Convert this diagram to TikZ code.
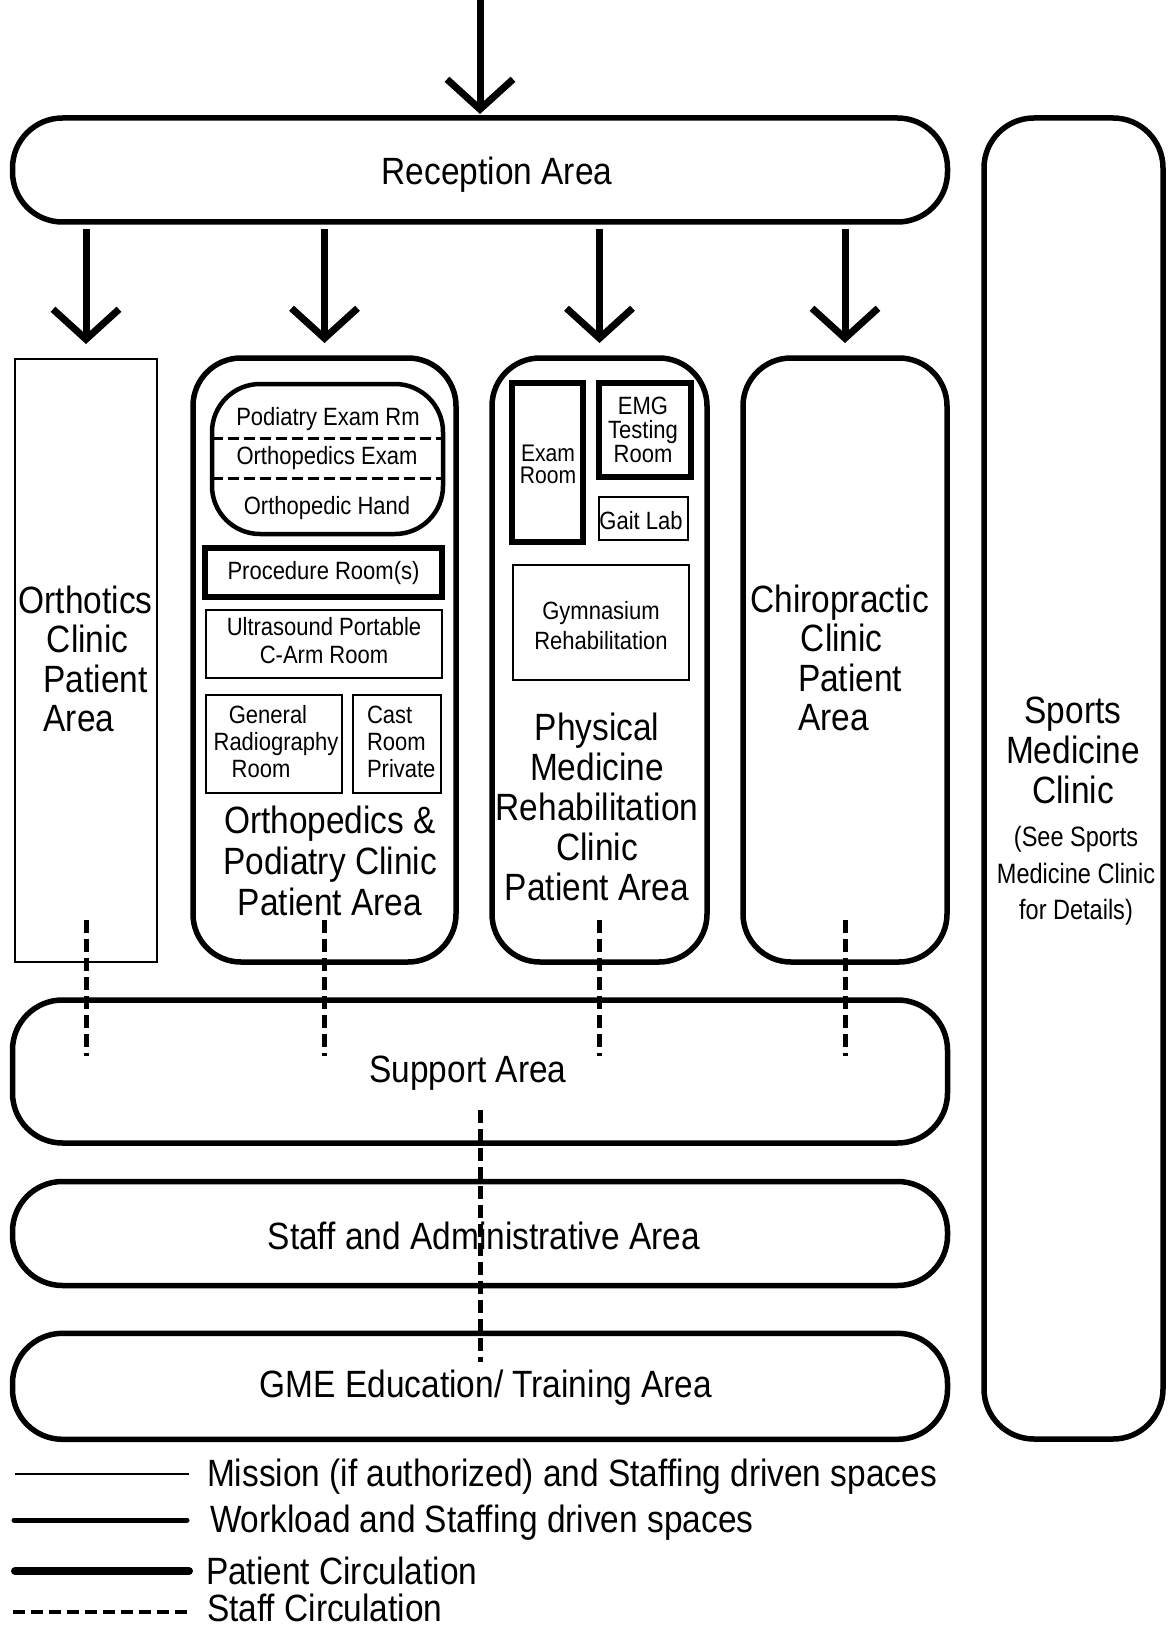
\documentclass[tikz,border=0pt]{standalone}
\usepackage{fontspec}
\setmainfont{Liberation Sans}[FakeStretch=0.88]
\newfontfamily\notefont{Liberation Sans}[FakeStretch=0.84]
\usetikzlibrary{arrows.meta,calc}
\begin{document}
\begin{tikzpicture}[x=1pt,y=-1pt,
  every node/.style={inner sep=0pt, outer sep=0pt},
  thinbox/.style={draw, line width=1.6pt},
  zone/.style={draw, line width=5.5pt, rounded corners=50pt},
  roombox/.style={draw, line width=5.5pt},
  big/.style={font=\fontsize{38}{40}\selectfont, align=center},
  small/.style={font=\fontsize{25}{27}\selectfont, align=center},
  legendtxt/.style={font=\fontsize{38}{40}\selectfont, anchor=west},
  arr/.style={line width=7pt, -{Straight Barb[length=30pt,width=66pt]}},
  staffline/.style={line width=5pt, dash pattern=on 13pt off 6pt},
  divline/.style={line width=3pt, dash pattern=on 11pt off 5pt},
]
\useasboundingbox (0,0) rectangle (1167,1629);

% reception
\node[zone, minimum width=935pt, minimum height=104pt] (rec) at (480,170) {};
\node[big] (rect) at (497,175) {Reception Area};

% sports medicine
\node[zone, minimum width=179pt, minimum height=1321pt] (sports) at (1073.5,778.5) {};
\node[big] (sportst) at (1073,750) {Sports\\Medicine\\Clinic};
\node[font=\notefont\fontsize{28}{36.5}\selectfont, align=center] (sportsn) at (1076,876) {(See Sports\\Medicine Clinic\\for Details)};

% orthotics
\node[thinbox, minimum width=142pt, minimum height=603pt] (orth) at (86,660.5) {};
\node[big] (ortht1) at (85.7,600) {Orthotics};
\node[big] (ortht2) at (87.8,639) {Clinic};
\node[big, anchor=west] (ortht3) at (43.6,679) {Patient};
\node[big, anchor=west] (ortht4) at (43.6,719) {Area};

% orthopedics & podiatry
\node[zone, rounded corners=48pt, minimum width=263pt, minimum height=604pt] (opc) at (324.5,660) {};
\node[draw, line width=4.5pt, rounded corners=48pt, minimum width=231pt, minimum height=150pt] (exams) at (327.5,459) {};
\draw[divline] (exams.west |- 0,438) -- (exams.east |- 0,438);
\draw[divline] (exams.west |- 0,478) -- (exams.east |- 0,478);
\node[small] (podt) at (328,419) {Podiatry Exam Rm};
\node[small] (orthex) at (327,458) {Orthopedics Exam};
\node[small] (orthh) at (327,508) {Orthopedic Hand};
\node[roombox, minimum width=237pt, minimum height=49pt] (proc) at (323.5,572.5) {};
\node[small] (proct) at (323.5,573.5) {Procedure Room(s)};
\node[thinbox, minimum width=236pt, minimum height=68pt] (us) at (324,644) {};
\node[small, font=\fontsize{25}{28}\selectfont] (ust) at (324,641) {Ultrasound Portable\\C-Arm Room};
\node[thinbox, minimum width=136pt, minimum height=98pt] (grad) at (274,744) {};
\node[small] (gradt1) at (268,715) {General};
\node[small] (gradt2) at (276,744) {Radiography};
\node[small] (gradt3) at (261,769) {Room};
\node[thinbox, minimum width=88pt, minimum height=98pt] (cast) at (397,744) {};
\node[small, align=left, anchor=west] (castt) at (367,742) {Cast\\Room\\Private};
\node[big, font=\fontsize{38}{41}\selectfont] (opct) at (330,861) {Orthopedics \&\\Podiatry Clinic\\Patient Area};

% physical medicine
\node[zone, rounded corners=48pt, minimum width=215pt, minimum height=604pt] (pmr) at (599.5,660) {};
\node[roombox, minimum width=71pt, minimum height=159pt] (exam) at (547.5,462.5) {};
\node[small, font=\fontsize{24}{22}\selectfont] (examt) at (548,464) {Exam\\Room};
\node[roombox, minimum width=92pt, minimum height=94pt] (emg) at (645,430) {};
\node[small, font=\fontsize{25}{24}\selectfont] (emgt) at (643,430) {EMG\\Testing\\Room};
\node[thinbox, minimum width=89pt, minimum height=43pt] (gait) at (643.5,518.5) {};
\node[small] (gaitt) at (641,521) {Gait Lab};
\node[thinbox, minimum width=176pt, minimum height=115pt] (gym) at (601,622.5) {};
\node[small, font=\fontsize{25}{30}\selectfont] (gymt) at (601,626) {Gymnasium\\Rehabilitation};
\node[big] (pmrt) at (597,807) {Physical\\Medicine\\Rehabilitation\\Clinic\\Patient Area};

% chiropractic
\node[zone, rounded corners=48pt, minimum width=204pt, minimum height=604pt] (chiro) at (845,660) {};
\node[big] (chirot1) at (839.7,603) {Chiropractic};
\node[big] (chirot2) at (841.8,638) {Clinic};
\node[big, anchor=west] (chirot3) at (798,678) {Patient};
\node[big, anchor=west] (chirot4) at (798,718) {Area};

% lower areas
\node[zone, minimum width=935pt, minimum height=143pt] (sup) at (480,1071.5) {};
\node[big] (supt) at (468,1073) {Support Area};
\node[zone, minimum width=935pt, minimum height=104pt] (staff) at (480,1233.5) {};
\node[big] (stafft) at (484,1236) {Staff and Administrative Area};
\node[zone, minimum width=935pt, minimum height=106pt] (gme) at (480,1386.3) {};
\node[big] (gmet) at (486,1388) {GME Education/ Training Area};

% patient circulation arrows
\coordinate (entry) at (480,-2);
\draw[arr] (entry) -- ($(rec.north)+(0,-4)$);
\foreach \b in {orth,opc,pmr,chiro}{
  \draw[arr] ($(rec.south -| \b.north)+(0,7)$) -- ($(\b.north)+(0,-15)$);
}

% staff circulation
\foreach \b in {orth,opc,pmr,chiro}{
  \draw[staffline] ($(\b.south)+(0,-42)$) -- ($(\b.south |- sup.north)+(0,56)$);
}
\draw[staffline] ($(sup.south)+(0,-33)$) -- ($(gme.north)+(0,29)$);

% legend
\draw[line width=1.6pt] (14.5,1474) -- (189,1474);
\node[legendtxt] (l1) at (207,1477) {Mission (if authorized) and Staffing driven spaces};
\draw[line width=5pt, line cap=round] (14,1520) -- (187,1520);
\node[legendtxt] (l2) at (210,1523) {Workload and Staffing driven spaces};
\draw[line width=8pt, line cap=round] (15,1571) -- (189,1571);
\node[legendtxt] (l3) at (206,1571) {Patient Circulation};
\draw[line width=4.5pt, dash pattern=on 12pt off 6pt] (12.5,1612) -- (192,1612);
\node[legendtxt] (l4) at (207,1608) {Staff Circulation};
\end{tikzpicture}
\end{document}
